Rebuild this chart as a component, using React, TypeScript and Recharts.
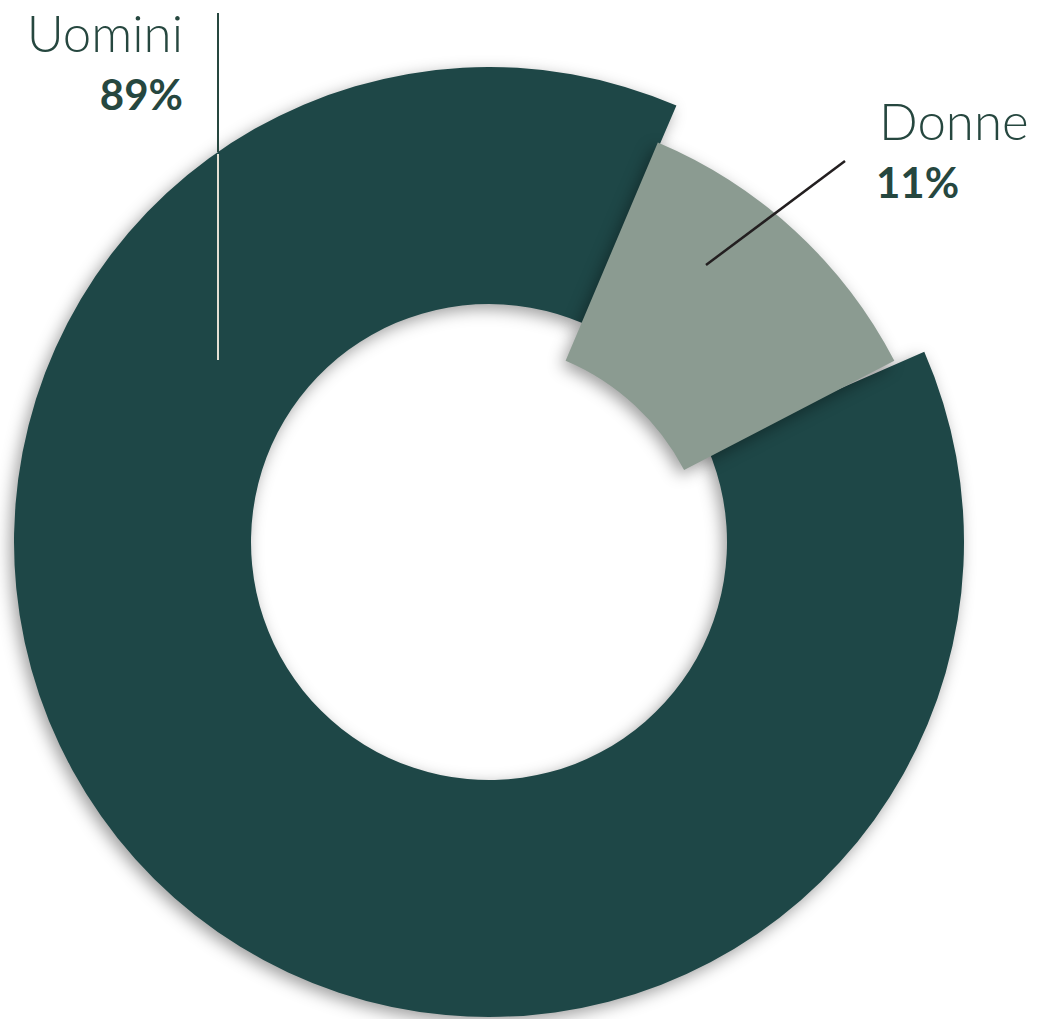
import { PieChart, Pie, Cell } from 'recharts'

const categories = ['Uomini', 'Donne']
const shares = [89, 11]
const shareLabels = ['89%', '11%']

const data = categories.map((name, i) => ({
  name,
  value: shares[i],
  label: shareLabels[i],
}))

const DARK = '#1e4747'
const LIGHT = '#8b9b91'
const TEXT = '#26473f'
const FONT = 'Lato, "Open Sans", sans-serif'

// label + leader line for the dark ring (Uomini)
const renderUomini = (props: any) => {
  if (props.index !== 0) return null
  const { cx, cy, outerRadius } = props
  const lx = cx - 271
  const edge = cy - Math.sqrt(outerRadius * outerRadius - 271 * 271)
  return (
    <g>
      <line x1={lx} y1={cy - 529} x2={lx} y2={edge} stroke={TEXT} strokeWidth={2} />
      <line x1={lx} y1={edge + 2} x2={lx} y2={cy - 182} stroke='#e4e0d4' strokeWidth={2} />
      <text x={lx - 35} y={cy - 490} textAnchor='end' fill={TEXT} fontFamily={FONT} fontWeight={300} fontSize={51}>
        {data[0].name}
      </text>
      <text x={lx - 35} y={cy - 432} textAnchor='end' fill={TEXT} fontFamily={FONT} fontWeight={700} fontSize={42}>
        {data[0].label}
      </text>
    </g>
  )
}

// label + leader line for the pushed-in slice (Donne)
const renderDonne = (props: any) => {
  if (props.index !== 1) return null
  const { cx, cy } = props
  return (
    <g>
      <line x1={cx + 233} y1={cy - 315} x2={cx + 372} y2={cy - 419} stroke='#231f20' strokeWidth={2.5} />
      <text x={cx + 406} y={cy - 440} fill={TEXT} fontFamily={FONT} fontWeight={300} fontSize={51}>
        {data[1].name}
      </text>
      <text x={cx + 403} y={cy - 382} fill={TEXT} fontFamily={FONT} fontWeight={700} fontSize={42}>
        {data[1].label}
      </text>
    </g>
  )
}

export default function App() {
  return (
    <div style={{ position: 'absolute', left: 0, top: 0, width: 1037, height: 1019, background: '#fff' }}>
      <style>{`.recharts-pie-sector path { filter: drop-shadow(-4px 5px 8px rgba(0,0,0,0.38)); }`}</style>
      <PieChart width={1037} height={1019} margin={{ top: 0, right: 0, bottom: 0, left: 0 }}>
        <Pie
          data={data}
          dataKey='value'
          nameKey='name'
          cx={489}
          cy={542}
          innerRadius={238}
          outerRadius={475}
          startAngle={23.6}
          endAngle={-336.4}
          paddingAngle={2}
          stroke='none'
          label={renderUomini}
          labelLine={false}
          isAnimationActive={false}
        >
          <Cell fill={DARK} />
          <Cell fill='transparent' />
        </Pie>
        <Pie
          data={data}
          dataKey='value'
          nameKey='name'
          cx={473}
          cy={580}
          innerRadius={238}
          outerRadius={475}
          startAngle={27.5}
          endAngle={-332.5}
          stroke='none'
          label={renderDonne}
          labelLine={false}
          isAnimationActive={false}
        >
          <Cell fill='transparent' />
          <Cell fill={LIGHT} />
        </Pie>
      </PieChart>
    </div>
  )
}
